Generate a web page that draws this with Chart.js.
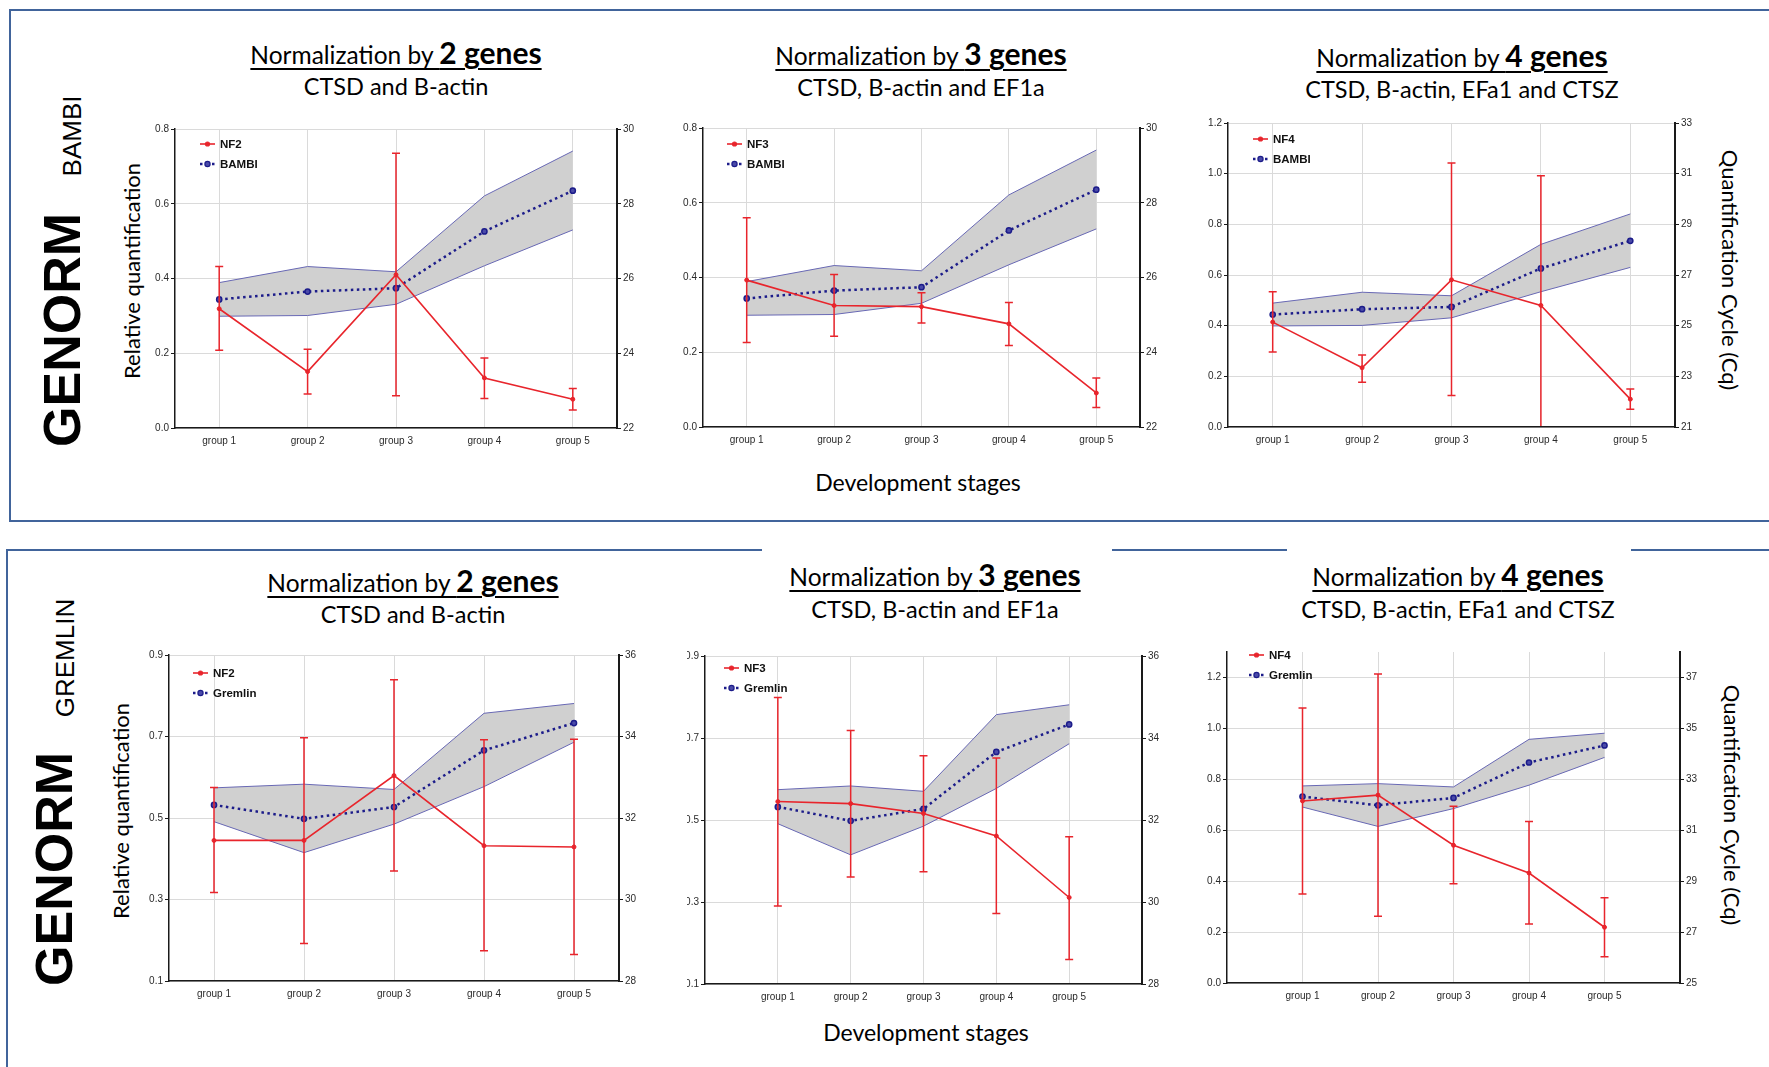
<!DOCTYPE html>
<html>
<head>
<meta charset="utf-8">
<script src="https://cdn.jsdelivr.net/npm/chart.js@4.4.0/dist/chart.umd.min.js"></script>
<style>
  body { margin: 0; background: #fff; }
  #page { position: relative; width: 1769px; height: 1067px; overflow: hidden; background: #fff; }
  .box { position: absolute; border: 2.5px solid #41649b; box-sizing: border-box; }
  .gap { position: absolute; background: #fff; height: 5px; }
  .txt { position: absolute; white-space: nowrap; transform: translate(-50%, -50%); color: #000; font-family: Lato, "Open Sans", sans-serif; }
  .rotl { transform: translate(-50%, -50%) rotate(-90deg); }
  .rotr { transform: translate(-50%, -50%) rotate(90deg); }
  .ttl { font-size: 24.5px; text-decoration: underline; text-decoration-thickness: 2px; text-underline-offset: 4px; }
  .ttl b { font-size: 30px; }
  .sub { font-size: 23.5px; }
  .genorm { font-family: "Liberation Sans", Arial, sans-serif; font-weight: bold; font-size: 52px; }
  .gene { font-family: "Liberation Sans", Arial, sans-serif; font-size: 26px; }
  .axt { font-size: 22px; }
  .dev { font-size: 23px; }
  .wrap { position: absolute; overflow: hidden; }
  .wrap canvas { position: absolute; top: 0; }
</style>
</head>
<body>
<div id="page">
  <div class="box" style="left:9px;top:9px;width:1800px;height:513px"></div>
  <div class="box" style="left:6px;top:549px;width:1800px;height:600px"></div>
  <div class="gap" style="left:762px;top:548px;width:350px"></div>
  <div class="gap" style="left:1287px;top:548px;width:344px"></div>

  <!-- top row: BAMBI -->
  <div class="txt rotl genorm" style="left:62px;top:330px">GENORM</div>
  <div class="txt rotl gene" style="left:72px;top:136px">BAMBI</div>
  <div class="txt ttl" style="left:396px;top:52px">Normalization by <b>2 genes</b></div>
  <div class="txt sub" style="left:396px;top:86px">CTSD and B-actin</div>
  <div class="txt ttl" style="left:921px;top:53px">Normalization by <b>3 genes</b></div>
  <div class="txt sub" style="left:921px;top:87px">CTSD, B-actin and EF1a</div>
  <div class="txt ttl" style="left:1462px;top:55px">Normalization by <b>4 genes</b></div>
  <div class="txt sub" style="left:1462px;top:89px">CTSD, B-actin, EFa1 and CTSZ</div>
  <div class="txt rotl axt" style="left:131px;top:271px">Relative quantification</div>
  <div class="txt rotr axt" style="left:1730px;top:270px">Quantification Cycle (Cq)</div>
  <div class="txt dev" style="left:918px;top:482px">Development stages</div>

  <!-- bottom row: Gremlin -->
  <div class="txt rotl genorm" style="left:54px;top:869px">GENORM</div>
  <div class="txt rotl gene" style="left:65px;top:658px">GREMLIN</div>
  <div class="txt ttl" style="left:413px;top:580px">Normalization by <b>2 genes</b></div>
  <div class="txt sub" style="left:413px;top:614px">CTSD and B-actin</div>
  <div class="txt ttl" style="left:935px;top:574px">Normalization by <b>3 genes</b></div>
  <div class="txt sub" style="left:935px;top:609px">CTSD, B-actin and EF1a</div>
  <div class="txt ttl" style="left:1458px;top:574px">Normalization by <b>4 genes</b></div>
  <div class="txt sub" style="left:1458px;top:609px">CTSD, B-actin, EFa1 and CTSZ</div>
  <div class="txt rotl axt" style="left:120px;top:811px">Relative quantification</div>
  <div class="txt rotr axt" style="left:1732px;top:805px">Quantification Cycle (Cq)</div>
  <div class="txt dev" style="left:926px;top:1032px">Development stages</div>
</div>

<script>
// categories
const groups = ["group 1", "group 2", "group 3", "group 4", "group 5"];

// BAMBI Cq (right axis) with the grey band limits
const bambiCq     = [25.44, 25.65, 25.74, 27.26, 28.35];
const bambiCqHigh = [25.89, 26.32, 26.18, 28.21, 29.41];
const bambiCqLow  = [24.99, 25.01, 25.31, 26.34, 27.30];

// Gremlin Cq
const gremlinCq     = [32.32, 31.98, 32.27, 33.66, 34.33];
const gremlinCqHigh = [32.74, 32.83, 32.70, 34.57, 34.81];
const gremlinCqLow  = [31.91, 31.15, 31.85, 32.77, 33.86];

// relative quantification, BAMBI
const bambiNF2   = [0.319, 0.151, 0.410, 0.134, 0.077];
const bambiNF2Hi = [0.432, 0.211, 0.735, 0.187, 0.106];
const bambiNF2Lo = [0.208, 0.091, 0.086, 0.079, 0.048];
const bambiNF3   = [0.393, 0.325, 0.322, 0.276, 0.091];
const bambiNF3Hi = [0.560, 0.408, 0.359, 0.333, 0.131];
const bambiNF3Lo = [0.226, 0.243, 0.278, 0.218, 0.052];
const bambiNF4   = [0.414, 0.234, 0.581, 0.480, 0.110];
const bambiNF4Hi = [0.534, 0.284, 1.042, 0.992, 0.150];
const bambiNF4Lo = [0.296, 0.177, 0.124, -0.03, 0.070];

// relative quantification, Gremlin
const gremlinNF2   = [0.445, 0.445, 0.604, 0.432, 0.429];
const gremlinNF2Hi = [0.575, 0.697, 0.839, 0.692, 0.693];
const gremlinNF2Lo = [0.317, 0.192, 0.370, 0.174, 0.165];
const gremlinNF3   = [0.545, 0.540, 0.516, 0.461, 0.311];
const gremlinNF3Hi = [0.799, 0.718, 0.657, 0.651, 0.459];
const gremlinNF3Lo = [0.290, 0.361, 0.374, 0.272, 0.160];
const gremlinNF4   = [0.715, 0.738, 0.541, 0.432, 0.219];
const gremlinNF4Hi = [1.080, 1.214, 0.694, 0.634, 0.335];
const gremlinNF4Lo = [0.350, 0.262, 0.390, 0.232, 0.103];

// tick labels
const rqTicks08  = [0, 0.2, 0.4, 0.6, 0.8];
const rqTicks12  = [0, 0.2, 0.4, 0.6, 0.8, 1.0, 1.2];
const rqTicksOdd = [0.1, 0.3, 0.5, 0.7, 0.9];
const cqTicks22  = [22, 24, 26, 28, 30];
const cqTicks21  = [21, 23, 25, 27, 29, 31, 33];
const cqTicks28  = [28, 30, 32, 34, 36];
const cqTicks25  = [25, 27, 29, 31, 33, 35, 37];

const RED = "#e8252c";
const NAVY = "#1c1c8a";
const GRID = "#dadada";
const AXIS = "#1a1a1a";
const PL = 45, PR = 40, PT = 12, PB = 28;

// error bars drawn through the y scale of the chart
const errorBars = {
  id: "errorBars",
  afterDatasetsDraw(chart) {
    const { ctx, chartArea: a } = chart;
    chart.data.datasets.forEach((ds, i) => {
      if (!ds.errLow) return;
      const meta = chart.getDatasetMeta(i);
      const ys = chart.scales[ds.yAxisID];
      ctx.save();
      ctx.beginPath();
      ctx.rect(a.left, a.top - 2, a.right - a.left, a.bottom - a.top + 1);
      ctx.clip();
      ctx.strokeStyle = ds.borderColor;
      ctx.lineWidth = 1.5;
      meta.data.forEach((pt, j) => {
        const lo = ds.errLow[j], hi = ds.errHigh[j];
        if (lo == null || hi == null) return;
        const x = pt.x, y1 = ys.getPixelForValue(lo), y2 = ys.getPixelForValue(hi);
        ctx.beginPath();
        ctx.moveTo(x, y1); ctx.lineTo(x, y2);
        ctx.moveTo(x - 4, y1); ctx.lineTo(x + 4, y1);
        ctx.moveTo(x - 4, y2); ctx.lineTo(x + 4, y2);
        ctx.stroke();
      });
      ctx.restore();
    });
  }
};

// legend inside the plot, line + marker + bold label
const insideLegend = {
  id: "insideLegend",
  afterDraw(chart, args, opts) {
    const { ctx, chartArea: a } = chart;
    const x0 = a.left + opts.x;
    let y = a.top + opts.y;
    chart.data.datasets.forEach(ds => {
      if (!ds.inLegend) return;
      ctx.save();
      ctx.strokeStyle = ds.borderColor;
      ctx.lineWidth = ds.borderWidth;
      ctx.setLineDash(ds.borderDash || []);
      ctx.beginPath(); ctx.moveTo(x0, y); ctx.lineTo(x0 + 15, y); ctx.stroke();
      ctx.setLineDash([]);
      ctx.fillStyle = ds.pointBackgroundColor;
      ctx.strokeStyle = ds.pointBorderColor;
      ctx.lineWidth = 1.2;
      ctx.beginPath(); ctx.arc(x0 + 7.5, y, ds.pointRadius, 0, Math.PI * 2); ctx.fill(); ctx.stroke();
      ctx.fillStyle = "#111";
      ctx.font = 'bold 11.5px "Liberation Sans", Arial, sans-serif';
      ctx.textBaseline = "middle";
      ctx.fillText(ds.label, x0 + 20, y + 0.5);
      ctx.restore();
      y += 20;
    });
  }
};

function pad(arr, wide) { return wide ? [null].concat(arr, [null]) : arr.slice(); }

function makePanel(p) {
  const w = p.R - p.L + PL + PR, h = p.B - p.T + PT + PB;
  const left = p.L - PL, top = p.T - PT;
  const clip = p.clipAt ? p.clipAt - left : 0;
  const wrap = document.createElement("div");
  wrap.className = "wrap";
  wrap.style.left = (left + clip) + "px";
  wrap.style.top = top + "px";
  wrap.style.width = (w - clip) + "px";
  wrap.style.height = h + "px";
  const cv = document.createElement("canvas");
  cv.width = w; cv.height = h;
  cv.style.left = (-clip) + "px";
  wrap.appendChild(cv);
  document.getElementById("page").appendChild(wrap);

  const wide = p.wide;
  const labels = wide ? [""].concat(groups, [""]) : groups;
  const tickFont = { family: '"Liberation Sans", Arial, sans-serif', size: 10 };

  new Chart(cv, {
    type: "line",
    data: {
      labels: labels,
      datasets: [
        {
          label: p.nfLabel, data: pad(p.nf, wide), errLow: pad(p.lo, wide), errHigh: pad(p.hi, wide),
          yAxisID: "y", borderColor: RED, backgroundColor: RED, borderWidth: 1.6,
          pointRadius: 2, pointBackgroundColor: RED, pointBorderColor: RED, pointBorderWidth: 1,
          fill: false, inLegend: true
        },
        {
          label: p.gene, data: pad(p.cq, wide), yAxisID: "y1",
          borderColor: NAVY, borderWidth: 2.5, borderDash: [2.5, 3.5],
          pointRadius: 2.6, pointBackgroundColor: "#4a4aa8", pointBorderColor: NAVY, pointBorderWidth: 1.5,
          fill: false, inLegend: true
        },
        {
          label: "upper", data: pad(p.cqHi, wide), yAxisID: "y1",
          borderColor: "#6868b4", borderWidth: 1, pointRadius: 0,
          backgroundColor: "#d0d0d0", fill: "+1"
        },
        {
          label: "lower", data: pad(p.cqLo, wide), yAxisID: "y1",
          borderColor: "#6868b4", borderWidth: 1, pointRadius: 0, fill: false
        }
      ]
    },
    options: {
      responsive: false,
      animation: false,
      devicePixelRatio: 1,
      layout: { padding: { top: PT, left: 0, right: 0, bottom: 0 } },
      plugins: {
        legend: { display: false },
        tooltip: { enabled: false },
        filler: { drawTime: "beforeDatasetsDraw" },
        insideLegend: { x: p.legX, y: p.legY }
      },
      scales: {
        x: {
          offset: !wide,
          grid: {
            offset: false, drawTicks: false,
            color: c => (wide && (c.index === 0 || c.index === labels.length - 1)) ? "rgba(0,0,0,0)" : GRID
          },
          border: { color: AXIS, width: 1.5 },
          ticks: { font: tickFont, color: "#2a2a2a", padding: 7, autoSkip: false, maxRotation: 0 },
          afterFit: s => { s.height = PB; }
        },
        y: {
          position: "left", min: p.yMin, max: p.yMax,
          afterBuildTicks: s => { s.ticks = p.yTicks.map(v => ({ value: v })); },
          ticks: { font: tickFont, color: "#2a2a2a", padding: 2, callback: v => Number(v).toFixed(1) },
          grid: { color: GRID, tickColor: AXIS, tickLength: 4 },
          border: { color: AXIS, width: 1.5 },
          afterFit: s => { s.width = PL; }
        },
        y1: {
          position: "right", min: p.y1Min, max: p.y1Max,
          afterBuildTicks: s => { s.ticks = p.y1Ticks.map(v => ({ value: v })); },
          ticks: { font: tickFont, color: "#2a2a2a", padding: 2 },
          grid: { drawOnChartArea: false, tickColor: AXIS, tickLength: 4 },
          border: { color: AXIS, width: 2 },
          afterFit: s => { s.width = PR; }
        }
      }
    },
    plugins: [errorBars, insideLegend]
  });
}

const panels = [
  { L: 175, R: 617, T: 129, B: 428, nfLabel: "NF2", nf: bambiNF2, hi: bambiNF2Hi, lo: bambiNF2Lo,
    gene: "BAMBI", cq: bambiCq, cqHi: bambiCqHigh, cqLo: bambiCqLow,
    yMin: 0, yMax: 0.8, yTicks: rqTicks08, y1Min: 22, y1Max: 30, y1Ticks: cqTicks22, legX: 25, legY: 15 },
  { L: 703, R: 1140, T: 128, B: 427, nfLabel: "NF3", nf: bambiNF3, hi: bambiNF3Hi, lo: bambiNF3Lo,
    gene: "BAMBI", cq: bambiCq, cqHi: bambiCqHigh, cqLo: bambiCqLow,
    yMin: 0, yMax: 0.8, yTicks: rqTicks08, y1Min: 22, y1Max: 30, y1Ticks: cqTicks22, legX: 24, legY: 16 },
  { L: 1228, R: 1675, T: 123, B: 427, nfLabel: "NF4", nf: bambiNF4, hi: bambiNF4Hi, lo: bambiNF4Lo,
    gene: "BAMBI", cq: bambiCq, cqHi: bambiCqHigh, cqLo: bambiCqLow,
    yMin: 0, yMax: 1.2, yTicks: rqTicks12, y1Min: 21, y1Max: 33, y1Ticks: cqTicks21, legX: 25, legY: 16 },
  { L: 169, R: 619, T: 655, B: 981, nfLabel: "NF2", nf: gremlinNF2, hi: gremlinNF2Hi, lo: gremlinNF2Lo,
    gene: "Gremlin", cq: gremlinCq, cqHi: gremlinCqHigh, cqLo: gremlinCqLow,
    yMin: 0.1, yMax: 0.9, yTicks: rqTicksOdd, y1Min: 28, y1Max: 36, y1Ticks: cqTicks28, legX: 24, legY: 18 },
  { L: 705, R: 1142, T: 656, B: 984, wide: true, clipAt: 687, nfLabel: "NF3", nf: gremlinNF3, hi: gremlinNF3Hi, lo: gremlinNF3Lo,
    gene: "Gremlin", cq: gremlinCq, cqHi: gremlinCqHigh, cqLo: gremlinCqLow,
    yMin: 0.1, yMax: 0.9, yTicks: rqTicksOdd, y1Min: 28, y1Max: 36, y1Ticks: cqTicks28, legX: 19, legY: 12 },
  { L: 1227, R: 1680, T: 652, B: 983, wide: true, nfLabel: "NF4", nf: gremlinNF4, hi: gremlinNF4Hi, lo: gremlinNF4Lo,
    gene: "Gremlin", cq: gremlinCq, cqHi: gremlinCqHigh, cqLo: gremlinCqLow,
    yMin: 0, yMax: 1.3, yTicks: rqTicks12, y1Min: 25, y1Max: 38, y1Ticks: cqTicks25, legX: 22, legY: 3 }
];

panels.forEach(makePanel);
</script>
</body>
</html>
